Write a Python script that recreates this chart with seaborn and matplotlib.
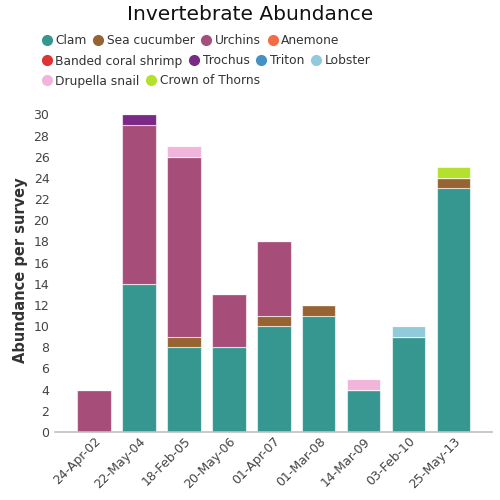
import matplotlib
matplotlib.use('Agg')
import matplotlib.pyplot as plt
import seaborn as sns
import pandas as pd
from matplotlib.lines import Line2D

dates = ['24-Apr-02', '22-May-04', '18-Feb-05', '20-May-06', '01-Apr-07',
         '01-Mar-08', '14-Mar-09', '03-Feb-10', '25-May-13']
species = ['Clam', 'Sea cucumber', 'Urchins', 'Anemone', 'Banded coral shrimp',
           'Trochus', 'Triton', 'Lobster', 'Drupella snail', 'Crown of Thorns']
colors = ['#369690', '#976332', '#a64d79', '#f26d44', '#dd3331',
          '#7a2a86', '#4590c5', '#91cadb', '#f1b4da', '#b4e12e']

clam = [0, 14, 8, 8, 10, 11, 4, 9, 23]
sea_cucumber = [0, 0, 1, 0, 1, 1, 0, 0, 1]
urchins = [4, 15, 17, 5, 7, 0, 0, 0, 0]
anemone = [0, 0, 0, 0, 0, 0, 0, 0, 0]
banded_shrimp = [0, 0, 0, 0, 0, 0, 0, 0, 0]
trochus = [0, 1, 0, 0, 0, 0, 0, 0, 0]
triton = [0, 0, 0, 0, 0, 0, 0, 0, 0]
lobster = [0, 0, 0, 0, 0, 0, 0, 1, 0]
drupella = [0, 0, 1, 0, 0, 0, 1, 0, 0]
crown_of_thorns = [0, 0, 0, 0, 0, 0, 0, 0, 1]

df = pd.DataFrame({
    'Date': dates,
    'Clam': clam, 'Sea cucumber': sea_cucumber, 'Urchins': urchins,
    'Anemone': anemone, 'Banded coral shrimp': banded_shrimp,
    'Trochus': trochus, 'Triton': triton, 'Lobster': lobster,
    'Drupella snail': drupella, 'Crown of Thorns': crown_of_thorns,
})

sns.set_theme(style='white')
plt.rcParams['font.family'] = ['DejaVu Sans']

fig = plt.figure(figsize=(5, 5), dpi=100)
ax = fig.add_axes([0.11, 0.136, 0.874, 0.648])

# stacked layers, one barplot call per species
bottom = pd.Series([0] * len(dates), dtype=float)
for name, col in zip(species, colors):
    vals = df[name]
    if vals.sum() > 0:
        sns.barplot(x=df['Date'], y=vals, bottom=bottom, color=col, width=0.75,
                    edgecolor=(1, 1, 1, 0.6), linewidth=0.8, ax=ax, saturation=1)
    bottom = bottom + vals

ax.set_xlim(-0.87, 8.86)
ax.set_ylim(0, 30.6)
ax.set_yticks(range(0, 31, 2))
ax.tick_params(axis='y', labelsize=9, colors='#444444', length=0, pad=4)
ax.tick_params(axis='x', labelsize=9, colors='#444444', length=0, pad=2)
plt.setp(ax.get_xticklabels(), rotation=45, ha='right', rotation_mode='anchor')
ax.set_xlabel('')
ax.set_ylabel('Abundance per survey', fontsize=10.5, fontweight='bold', color='#333333', labelpad=4)
for s in ['top', 'right', 'left']:
    ax.spines[s].set_visible(False)
ax.spines['bottom'].set_color('#c0c0c0')
ax.spines['bottom'].set_linewidth(1.2)

fig.suptitle('Invertebrate Abundance', fontsize=14.5, y=0.99, color='#111111')

handles = [Line2D([], [], marker='o', linestyle='', markersize=7,
                  markerfacecolor=c, markeredgecolor=c) for c in colors]
rows = [(0, 4, 0.918), (4, 8, 0.878), (8, 10, 0.838)]
for a, b, y in rows:
    leg = fig.legend(handles[a:b], species[a:b], loc='center left', bbox_to_anchor=(0.084, y),
                     ncol=b - a, frameon=False, fontsize=8.8, handletextpad=0.3,
                     columnspacing=0.55, borderpad=0, borderaxespad=0, handlelength=0.8)
    for t in leg.get_texts():
        t.set_color('#333333')

fig.savefig('out.png', dpi=100)
